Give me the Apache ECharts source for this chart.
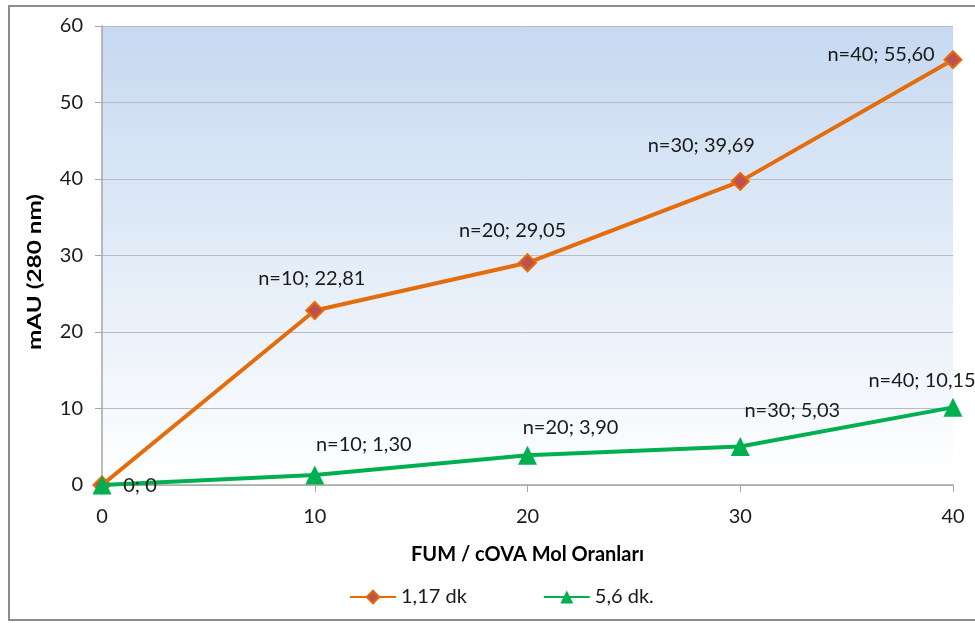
<!DOCTYPE html>
<html>
<head>
<meta charset="utf-8">
<script src="https://cdn.jsdelivr.net/npm/echarts@6/dist/echarts.min.js"></script>
<style>
  html, body { margin: 0; padding: 0; background: #ffffff; }
  #frame { position: absolute; left: 8px; top: 5px; width: 970px; height: 616px; border: 2px solid #8c8c8c; box-sizing: border-box; }
  #chart { position: absolute; left: 0; top: 0; width: 975px; height: 623px; }
</style>
</head>
<body>
<div id="frame"></div>
<div id="chart"></div>
<script>
// Molar ratios on the x axis
const ratios = [0, 10, 20, 30, 40];
// Absorbance at 280 nm for the two retention times
const peak117 = [0, 22.81, 29.05, 39.69, 55.60];
const peak56 = [0, 1.30, 3.90, 5.03, 10.15];
// Label texts shown beside each point
const labels117 = ['', 'n=10; 22,81', 'n=20; 29,05', 'n=30; 39,69', 'n=40; 55,60'];
const labels56 = ['0; 0', 'n=10; 1,30', 'n=20; 3,90', 'n=30; 5,03', 'n=40; 10,15'];
const seriesNames = ['1,17 dk', '5,6 dk.'];
const xTitle = 'FUM / cOVA Mol Oranları';
const yTitle = 'mAU (280 nm)';

// Label offsets relative to each point
const offs117 = [[0, 0], [-3, -32], [-15, -32], [-39, -36], [-72, -5]];
const offs56 = [[38, 1], [49, -31], [43, -28], [52, -36], [-31, -27]];

const font = 'Lato, "Open Sans", sans-serif';

function build(vals, texts, offs) {
  return vals.map((v, i) => ({
    value: [ratios[i], v],
    label: {
      show: texts[i] !== '',
      formatter: texts[i],
      offset: offs[i],
      position: 'inside'
    }
  }));
}

const chart = echarts.init(document.getElementById('chart'), null, { renderer: 'canvas' });
chart.setOption({
  animation: false,
  textStyle: { fontFamily: font },
  grid: { left: 102, right: 22, top: 26, bottom: 138, show: true, borderWidth: 0,
    backgroundColor: new echarts.graphic.LinearGradient(0, 0, 0, 1, [
      { offset: 0, color: '#c6d9f1' },
      { offset: 1, color: '#ffffff' }
    ]) },
  // vertical axis title, drawn tall and narrow
  graphic: [{
    type: 'text', x: 35, y: 272, rotation: Math.PI / 2, scaleX: 1.28,
    style: { text: yTitle, font: 'bold 19px Lato, sans-serif', fill: '#000',
      align: 'center', verticalAlign: 'middle' }
  }],
  xAxis: {
    type: 'value', min: 0, max: 40, interval: 10,
    name: xTitle, nameLocation: 'middle', nameGap: 60,
    nameTextStyle: { fontSize: 20, fontWeight: 'bold', color: '#000', fontFamily: font },
    axisLine: { show: true, lineStyle: { color: '#a6a6a6', width: 1.5 } },
    axisTick: { show: true, length: 7, lineStyle: { color: '#a6a6a6' } },
    axisLabel: { fontSize: 20, color: '#1a1a1a', margin: 22, fontFamily: font },
    splitLine: { show: false }
  },
  yAxis: {
    type: 'value', min: 0, max: 60, interval: 10,
    axisLine: { show: true, lineStyle: { color: '#a6a6a6', width: 1.5 } },
    axisTick: { show: true, length: 7, lineStyle: { color: '#a6a6a6' } },
    axisLabel: { fontSize: 20, color: '#1a1a1a', margin: 19, fontFamily: font },
    splitLine: { show: true, lineStyle: { color: '#b8bcc2', width: 1 } }
  },
  legend: {
    bottom: 11, left: 344, itemGap: 76, itemWidth: 46, itemHeight: 16,
    textStyle: { fontSize: 20, color: '#1a1a1a', fontFamily: font },
    data: seriesNames
  },
  series: [
    {
      name: seriesNames[0], type: 'line', data: build(peak117, labels117, offs117),
      symbol: 'diamond', symbolSize: 17,
      lineStyle: { color: '#e46c0a', width: 4 },
      itemStyle: { color: '#c0504d', borderColor: '#e46c0a', borderWidth: 2 },
      label: { fontSize: 20, color: '#1a1a1a', fontFamily: font },
      z: 2
    },
    {
      name: seriesNames[1], type: 'line', data: build(peak56, labels56, offs56),
      symbol: 'triangle', symbolSize: 19,
      lineStyle: { color: '#00b050', width: 4 },
      itemStyle: { color: '#00b050', borderColor: '#00b050', borderWidth: 0 },
      label: { fontSize: 20, color: '#1a1a1a', fontFamily: font },
      z: 3
    }
  ]
});
</script>
</body>
</html>
